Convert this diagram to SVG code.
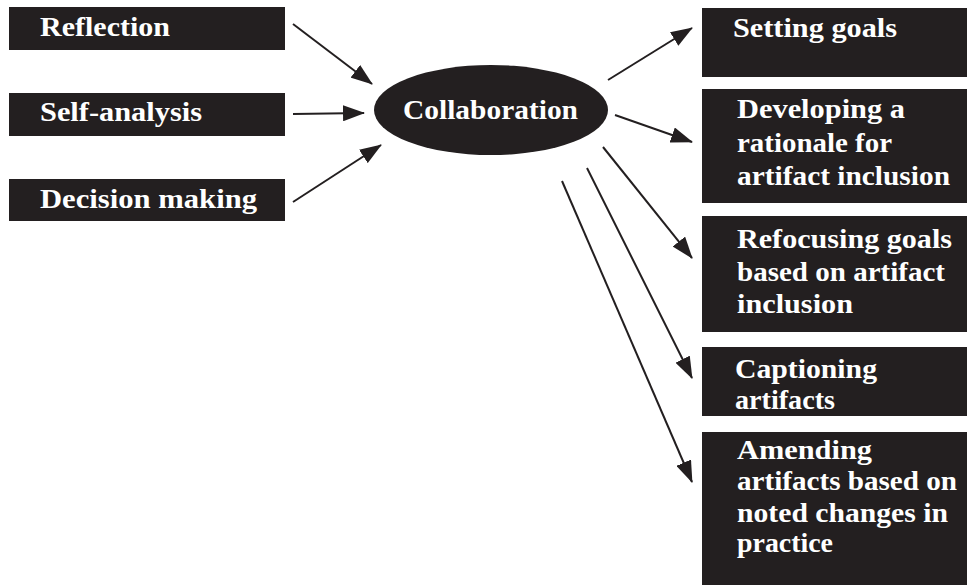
<svg xmlns="http://www.w3.org/2000/svg" width="967" height="585" viewBox="0 0 967 585">
<style>
.box{fill:#231f20}
.t{font-family:"Liberation Serif","Times New Roman",serif;font-weight:bold;font-size:28px;fill:#ffffff}
.c{stroke:#231f20;stroke-width:2;fill:none;marker-end:url(#ah)}
</style>
<defs>
<marker id="ah" viewBox="0 0 22 16" refX="21" refY="8" markerWidth="22" markerHeight="16" markerUnits="userSpaceOnUse" orient="auto">
<path d="M0,0 L22,8 L0,16 Z" fill="#231f20"/>
</marker>
</defs>
<rect width="967" height="585" fill="#ffffff"/>
<g id="reflection"><rect class="box" x="9" y="7" width="276" height="43"/><text class="t" x="40" y="36" textLength="130" lengthAdjust="spacingAndGlyphs">Reflection</text></g>
<g id="self-analysis"><rect class="box" x="9" y="93" width="276" height="43"/><text class="t" x="40" y="121" textLength="162" lengthAdjust="spacingAndGlyphs">Self-analysis</text></g>
<g id="decision-making"><rect class="box" x="9" y="179" width="276" height="42"/><text class="t" x="40" y="208" textLength="217" lengthAdjust="spacingAndGlyphs">Decision making</text></g>
<g id="collaboration"><ellipse class="box" cx="491" cy="110" rx="117" ry="45"/><text class="t" x="403" y="119" textLength="175" lengthAdjust="spacingAndGlyphs">Collaboration</text></g>
<g id="setting-goals"><rect class="box" x="702" y="8" width="270" height="69"/><text class="t" x="733" y="37" textLength="164" lengthAdjust="spacingAndGlyphs">Setting goals</text></g>
<g id="developing"><rect class="box" x="702" y="89" width="270" height="114"/>
<text class="t" x="737" y="118" textLength="168" lengthAdjust="spacingAndGlyphs">Developing a</text>
<text class="t" x="737" y="152" textLength="155" lengthAdjust="spacingAndGlyphs">rationale for</text>
<text class="t" x="737" y="185" textLength="213" lengthAdjust="spacingAndGlyphs">artifact inclusion</text></g>
<g id="refocusing"><rect class="box" x="702" y="216" width="270" height="116"/>
<text class="t" x="737" y="248" textLength="215" lengthAdjust="spacingAndGlyphs">Refocusing goals</text>
<text class="t" x="737" y="281" textLength="208" lengthAdjust="spacingAndGlyphs">based on artifact</text>
<text class="t" x="737" y="313" textLength="116" lengthAdjust="spacingAndGlyphs">inclusion</text></g>
<g id="captioning"><rect class="box" x="702" y="347" width="270" height="69"/>
<text class="t" x="735" y="378" textLength="142" lengthAdjust="spacingAndGlyphs">Captioning</text>
<text class="t" x="735" y="409" textLength="100" lengthAdjust="spacingAndGlyphs">artifacts</text></g>
<g id="amending"><rect class="box" x="702" y="432" width="270" height="160"/>
<text class="t" x="737" y="459" textLength="135" lengthAdjust="spacingAndGlyphs">Amending</text>
<text class="t" x="737" y="490" textLength="220" lengthAdjust="spacingAndGlyphs">artifacts based on</text>
<text class="t" x="737" y="522" textLength="211" lengthAdjust="spacingAndGlyphs">noted changes in</text>
<text class="t" x="737" y="552" textLength="96" lengthAdjust="spacingAndGlyphs">practice</text></g>
<g id="connectors">
<line class="c" x1="293" y1="24" x2="372" y2="84"/>
<line class="c" x1="293" y1="114" x2="364" y2="113"/>
<line class="c" x1="293" y1="202" x2="381" y2="145"/>
<line class="c" x1="608" y1="80" x2="692" y2="28"/>
<line class="c" x1="615" y1="115" x2="692" y2="142"/>
<line class="c" x1="603" y1="147" x2="692" y2="258"/>
<line class="c" x1="587" y1="168" x2="692" y2="378"/>
<line class="c" x1="562" y1="181" x2="692" y2="482"/>
</g>
</svg>
